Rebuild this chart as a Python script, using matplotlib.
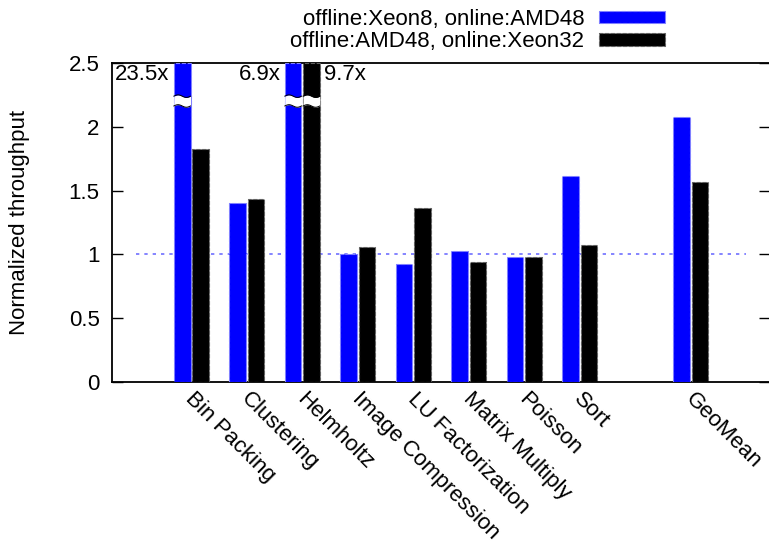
import numpy as np
import matplotlib
matplotlib.use('Agg')
import matplotlib.pyplot as plt
from matplotlib.patches import Patch
from matplotlib.transforms import ScaledTranslation

plt.rcParams['font.family'] = ['Liberation Sans', 'DejaVu Sans']

categories = ['Bin Packing', 'Clustering', 'Helmholtz', 'Image Compression',
              'LU Factorization', 'Matrix Multiply', 'Poisson', 'Sort', 'GeoMean']
positions = [0, 1, 2, 3, 4, 5, 6, 7, 9]
xeon8_amd48 = [23.5, 1.40, 6.9, 1.005, 0.927, 1.029, 0.982, 1.614, 2.076]
amd48_xeon32 = [1.824, 1.438, 9.7, 1.060, 1.367, 0.942, 0.982, 1.076, 1.567]
series_labels = ['offline:Xeon8, online:AMD48', 'offline:AMD48, online:Xeon32']

YMAX = 2.5
FS = 16
width = 0.30
offset = 0.165

fig = plt.figure(figsize=(7.69, 5.45), dpi=100)
ax = fig.add_axes([112 / 769, 1 - 381.7 / 545, 657.5 / 769, (381.7 - 63.3) / 545])

styles = [('#0000ff', '#8080ff', -offset, 'right'),
          ('#000000', '#606060', offset, 'left')]

for vals, (fc, ec, off, side) in zip([xeon8_amd48, amd48_xeon32], styles):
    xs = np.array(positions) + off
    clipped = np.minimum(vals, YMAX)
    ax.bar(xs, clipped, width=width, color=fc, edgecolor=ec, linestyle='--',
           linewidth=0.8, zorder=3)
    for x, v in zip(xs, vals):
        if v <= YMAX:
            continue
        # break marks for bars that go off the top
        wx = np.linspace(x - width / 2, x + width / 2, 40)
        wave = 0.01 * np.sin(2 * np.pi * (wx - wx[0]) / width)
        ax.fill_between(wx, 2.165 + wave, 2.242 + wave, color='white', zorder=4, lw=0)
        ax.plot(wx, 2.165 + wave, color='black', lw=0.7, zorder=5)
        ax.plot(wx, 2.242 + wave, color='black', lw=0.7, zorder=5)
        if side == 'right':
            ax.text(x - width / 2 - 0.08, 2.41, f'{v}x', ha='right', va='center', fontsize=FS)
        else:
            ax.text(x + width / 2 + 0.08, 2.41, f'{v}x', ha='left', va='center', fontsize=FS)

ax.hlines(1, -1, 10, colors='#7070ff', linestyles=(0, (2, 3)), lw=1.2, zorder=2)

ax.set_xlim(-1.43, 10.42)
ax.set_ylim(0, YMAX)
ax.set_yticks([0, 0.5, 1, 1.5, 2, 2.5])
ax.set_yticklabels(['0', '0.5', '1', '1.5', '2', '2.5'])
ax.set_xticks(positions)
ax.set_xticklabels(categories, rotation=-45, ha='left', va='top', rotation_mode='anchor')
ax.tick_params(axis='x', length=0, pad=5, labelsize=FS)
ax.tick_params(axis='y', direction='in', length=8, width=1, pad=9, labelsize=FS,
               right=True)
shift = ScaledTranslation(5 / 100, 0, fig.dpi_scale_trans)
for lbl in ax.get_xticklabels():
    lbl.set_transform(lbl.get_transform() + shift)
ax.spines['right'].set_visible(False)
for s in ['left', 'top', 'bottom']:
    ax.spines[s].set_linewidth(1.3)
ax.set_ylabel('Normalized throughput', fontsize=FS, labelpad=28)

handles = [Patch(facecolor='#0000ff', edgecolor='#8080ff', linestyle='--', lw=0.8),
           Patch(facecolor='#000000', edgecolor='#606060', linestyle='--', lw=0.8)]
fig.legend(handles, series_labels, loc='upper right', markerfirst=False, frameon=False,
           fontsize=FS, handlelength=2.95, handleheight=0.5, handletextpad=0.68,
           labelspacing=0.05, borderpad=0, borderaxespad=0,
           bbox_to_anchor=(665 / 769, 1 - 9 / 545), bbox_transform=fig.transFigure)

fig.savefig('out.png', dpi=100)
